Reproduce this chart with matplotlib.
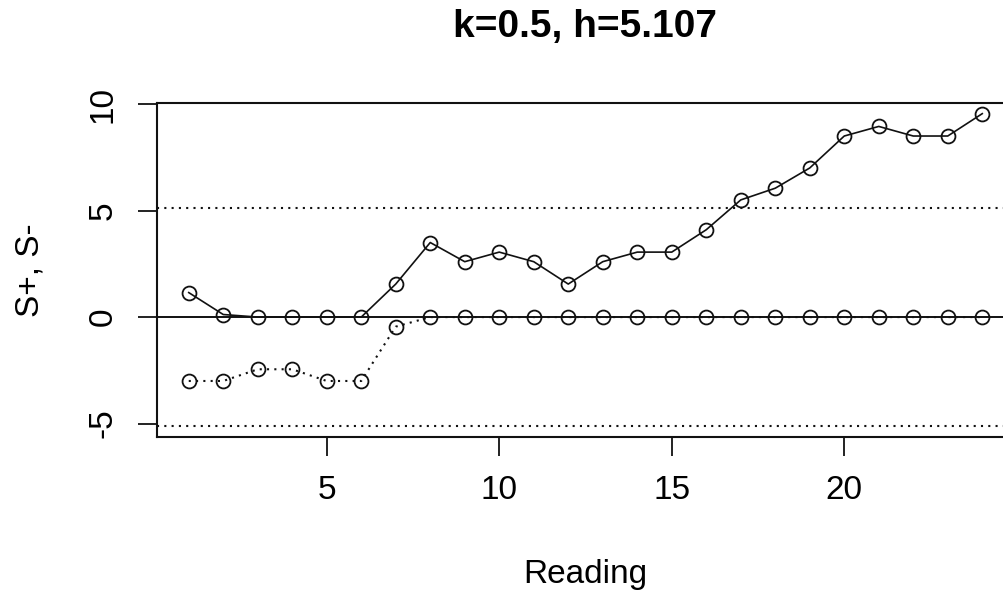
import matplotlib
matplotlib.use("Agg")
import matplotlib.pyplot as plt

plt.rcParams['font.family'] = ['Liberation Sans', 'DejaVu Sans']

# CUSUM readings
reading = list(range(1, 25))
s_plus = [1.15, 0.12, 0, 0, 0, 0, 1.55, 3.5, 2.6, 3.05, 2.6, 1.55,
          2.6, 3.05, 3.05, 4.1, 5.5, 6.05, 7.0, 8.5, 8.95, 8.5, 8.5, 9.55]
s_minus = [-3.0, -3.0, -2.45, -2.45, -3.0, -3.0, -0.45, 0, 0, 0, 0, 0,
           0, 0, 0, 0, 0, 0, 0, 0, 0, 0, 0, 0]
k = 0.5
h = 5.107
title = "k=0.5, h=5.107"

W, H = 1004, 592
fig = plt.figure(figsize=(W / 100, H / 100), dpi=100)
# axes box runs a little past the right edge, as in the original
ax = fig.add_axes([157 / W, 1 - 437 / H, 857 / W, 334 / H])

mk = dict(marker='o', markersize=10, markerfacecolor='none',
          markeredgecolor='#111111', markeredgewidth=1.3, color='#111111')

ax.axhline(0, color='#111111', lw=1.4)
ax.axhline(h, color='#111111', lw=1.5, ls=(0, (1, 2.5)))
ax.axhline(-h, color='#111111', lw=1.5, ls=(0, (1, 2.5)))

ax.plot(reading, s_plus, lw=1.2, ls='-', **mk)
ax.plot(reading, s_minus, lw=1.5, ls=(0, (1, 2.5)), **mk)

ax.set_xlim(0.08, 24.92)
ax.set_ylim(-5.63, 10.05)
ax.set_xticks([5, 10, 15, 20])
ax.set_yticks([-5, 0, 5, 10])
ax.set_yticklabels(['-5', '0', '5', '10'], rotation=90, va='center')

for s in ax.spines.values():
    s.set_linewidth(1.5)
    s.set_color('#111111')
ax.tick_params(direction='out', length=13.7, width=1.3, labelsize=24, pad=14,
               color='#111111')

ax.set_xlabel("Reading", fontsize=24)
ax.xaxis.set_label_coords(0.5, -0.413)
ax.xaxis.label.set_va('center')
ax.set_ylabel("S+, S-", fontsize=24)
ax.yaxis.set_label_coords((30 - 157) / 857, 0.5)
ax.yaxis.label.set_va('center')

ax.text(0.5, (437 - 27) / 334, title, transform=ax.transAxes,
        ha='center', va='center', fontsize=28, fontweight='bold')

fig.savefig("out.png", dpi=100)
